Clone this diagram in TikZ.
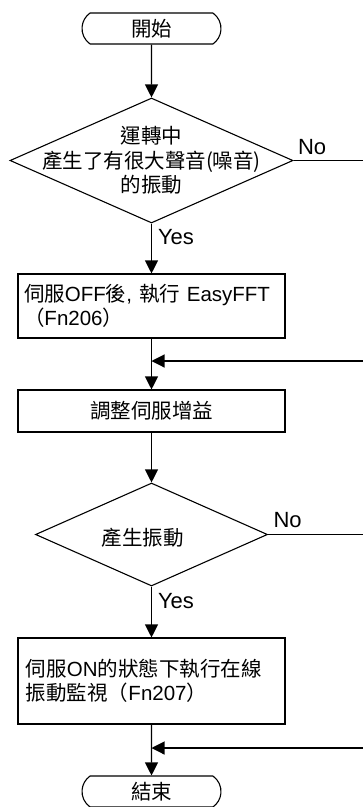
\documentclass[tikz,border=0pt]{standalone}
\usepackage{fontspec}
\setmainfont{Noto Sans CJK TC}
\newfontfamily\lat{Liberation Sans}
\usetikzlibrary{arrows.meta, positioning, shapes.geometric, shapes.misc}
\newcommand{\en}[1]{{\lat #1}}

\begin{document}
\begin{tikzpicture}[
  x=1pt, y=-1pt,
  >={Triangle[length=13pt,width=13pt]},
  line width=1.1pt,
  txt/.style={font=\fontsize{20.5}{24.5}\selectfont},
  term/.style={draw, rounded rectangle, rounded rectangle arc length=110,
               minimum width=139pt, minimum height=31pt, inner sep=0pt, txt},
  dec/.style={draw, diamond, inner sep=0pt},
  blk/.style={draw, rectangle, minimum width=267pt, inner sep=0pt, txt},
  lblk/.style={blk, align=left, text width=259pt, inner xsep=4pt},
  arr/.style={->},
  yn/.style={font=\lat\fontsize{22}{24}\selectfont, inner sep=0pt},
]
\useasboundingbox (0,0) rectangle (363,807);
% Main column
\node[term] (start) at (151.5,28.5) {開始};
\node[dec, minimum width=283pt, minimum height=125pt,
      label={[txt, align=center]center:{運轉中\\產生了有很大聲音(噪音)\\的振動}}]
      (d1) at (151.5,160.5) {};
\node[lblk, minimum height=64pt] (b1) at (151.5,306)
      {\mbox{\hspace{2pt}伺服\en{OFF}後\en{, }執行\en{ EasyFFT}}\\\hspace{2pt}（\en{Fn206}）};
\node[blk, minimum height=42pt] (b2) at (151.5,411) {調整伺服增益};
\node[dec, minimum width=232pt, minimum height=103pt,
      label={[txt, xshift=-9pt, yshift=-3pt]center:產生振動}] (d2) at (151.5,534.5) {};
\node[lblk, minimum height=86pt, text width=251pt, inner xsep=8pt] (b3) at (151.5,681)
      {伺服\en{ON}的狀態下執行在線\\振動監視（\en{Fn207}）};
\node[term] (stop) at (151.5,791.5) {結束};
% Branch ends at the right edge
\coordinate (e1) at (363,160.5);
\coordinate (r1) at (363,361);
\coordinate (j1) at (151.5,361);
\coordinate (e2) at (363,534.5);
\coordinate (r2) at (363,748);
\coordinate (j2) at (151.5,748);
% Arrows
\draw[arr] (start) -- (d1);
\draw[arr] (d1) -- (b1);
\draw[arr] (b1) -- (b2);
\draw[arr] (b2) -- (d2);
\draw[arr] (d2) -- (b3);
\draw[arr] (b3) -- (stop);
\draw (d1.east) -- (e1);
\draw (d2.east) -- (e2);
\draw[arr] (r1) -- (j1);
\draw[arr] (r2) -- (j2);
% Branch labels
\node[yn, anchor=south west] (no1) at ([xshift=4pt,yshift=5pt]d1.east) {No};
\node[yn, anchor=north west] (yes1) at ([xshift=6pt,yshift=-5pt]d1.south) {Yes};
\node[yn, anchor=south west] (no2) at ([xshift=5pt,yshift=6pt]d2.east) {No};
\node[yn, anchor=north west] (yes2) at ([xshift=6pt,yshift=-6pt]d2.south) {Yes};
\end{tikzpicture}
\end{document}
